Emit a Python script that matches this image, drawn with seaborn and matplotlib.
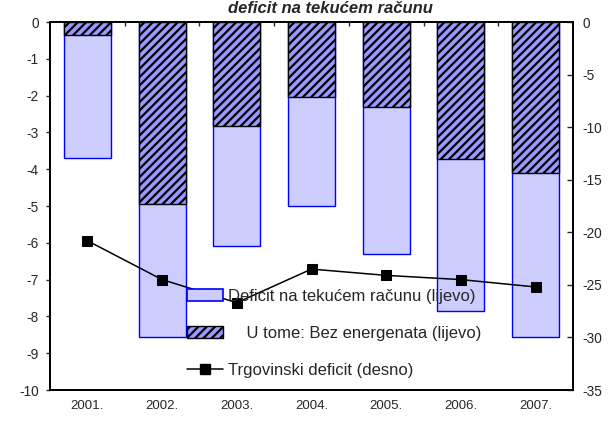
import numpy as np
import pandas as pd
import matplotlib
matplotlib.use("Agg")
import matplotlib.pyplot as plt
from matplotlib.patches import Patch
from matplotlib.lines import Line2D
import seaborn as sns

# data
years = ["2001.", "2002.", "2003.", "2004.", "2005.", "2006.", "2007."]
current_deficit = [-3.7, -8.56, -6.09, -4.99, -6.3, -7.85, -8.56]      # left axis
non_energy = [-0.36, -4.95, -2.83, -2.03, -2.32, -3.73, -4.11]        # left axis
trade_deficit = [-20.8, -24.5, -26.7, -23.5, -24.1, -24.5, -25.2]     # right axis

labels = ["Deficit na tekućem računu (lijevo)",
          "    U tome: Bez energenata (lijevo)",
          "Trgovinski deficit (desno)"]

sns.set_style("ticks")
plt.rcParams["font.family"] = ["Liberation Sans", "DejaVu Sans"]
plt.rcParams["axes.unicode_minus"] = False
plt.rcParams["hatch.linewidth"] = 1.6

df = pd.DataFrame({"year": years, "total": current_deficit,
                   "part": non_energy, "trade": trade_deficit})

fig = plt.figure(figsize=(6.12, 4.21), dpi=100)
ax = fig.add_axes([50 / 612, 1 - 390 / 421, 523 / 612, 368 / 421])

light = "#ccccff"
dark = "#9999ff"

sns.barplot(data=df, x="year", y="total", color=light, edgecolor="blue",
            linewidth=1.0, width=0.63, saturation=1, errorbar=None, ax=ax)
sns.barplot(data=df, x="year", y="part", color=dark, edgecolor="black",
            linewidth=1.0, width=0.63, saturation=1, errorbar=None,
            hatch="////", ax=ax)

ax.set_ylim(-10, 0)
ax.set_yticks(np.arange(-10, 1, 1))
ax.set_xlim(-0.5, 6.5)
ax.set_xticks(np.arange(7))
ax.set_xticklabels(years)
ax.set_xticks(np.arange(0.5, 6.5, 1), minor=True)
ax.tick_params(axis="x", which="major", length=0, pad=7, labelsize=9.5)
ax.tick_params(axis="x", which="minor", top=True, bottom=False,
               direction="in", length=3, width=1)
ax.tick_params(axis="y", direction="out", length=3, width=1, pad=5,
               labelsize=9.8)
ax.set_xlabel("")
ax.set_ylabel("")

ax2 = ax.twinx()
sns.lineplot(x=np.arange(7), y=df["trade"], color="black", marker="s",
             markersize=7, markeredgecolor="black", linewidth=1.1,
             legend=False, ax=ax2)
ax2.set_ylim(-35, 0)
ax2.set_yticks(np.arange(-35, 1, 5))
ax2.set_xlim(-0.5, 6.5)
ax2.tick_params(axis="y", direction="in", length=4, width=1, pad=7,
                labelsize=9.8)
ax2.set_ylabel("")

for a in (ax, ax2):
    for s in a.spines.values():
        s.set_visible(True)
        s.set_linewidth(1.3)
        s.set_color("black")

handles = [Patch(facecolor=light, edgecolor="blue", linewidth=1.2),
           Patch(facecolor=dark, edgecolor="black", hatch="////", linewidth=1.0),
           Line2D([], [], color="black", marker="s", markersize=7, linewidth=1.1)]
fig.legend(handles, labels, loc="upper left",
           bbox_to_anchor=(187 / 612, 1 - 289 / 421), frameon=False,
           fontsize=12, handlelength=2.15, handleheight=0.75, handletextpad=0.3,
           labelspacing=1.33, borderpad=0, borderaxespad=0)

fig.text(330 / 612, 1 - 1 / 421, "deficit na tekućem računu", ha="center",
         va="top", fontsize=12, fontweight="bold", fontstyle="italic")

fig.savefig("out.png", dpi=100)
